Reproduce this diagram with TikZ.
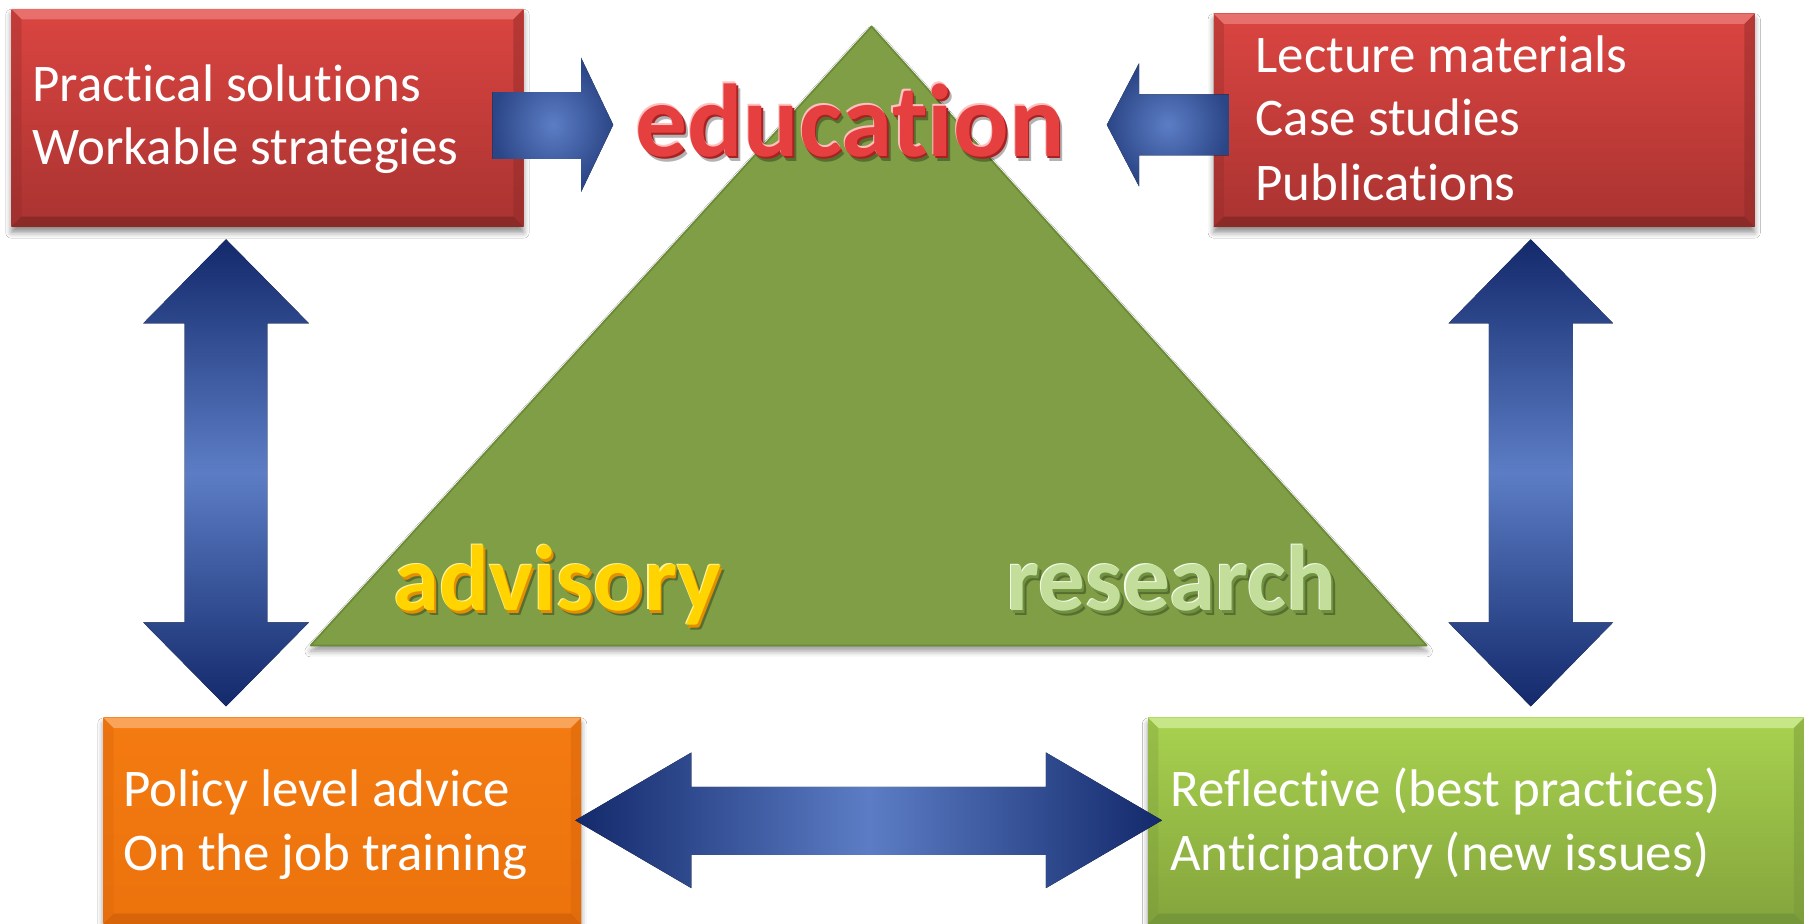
\documentclass[tikz,border=0pt]{standalone}
\usepackage{fontspec}
\setmainfont{Carlito}[RawFeature={-liga;-clig;-dlig;-hlig}]
\usetikzlibrary{shadows.blur}
\definecolor{redtop}{HTML}{DB4541}
\definecolor{redbot}{HTML}{A93331}
\definecolor{redlight}{HTML}{E8706C}
\definecolor{reddark}{HTML}{8C2A28}
\definecolor{orangemain}{HTML}{F47A11}
\definecolor{orangebot}{HTML}{EC720D}
\definecolor{orangelight}{HTML}{F9A458}
\definecolor{orangedark}{HTML}{D8640A}
\definecolor{greentop}{HTML}{A8D24F}
\definecolor{greenbot}{HTML}{84A43C}
\definecolor{greenlight}{HTML}{C6E688}
\definecolor{greendark}{HTML}{76963A}
\definecolor{trifill}{HTML}{7F9E45}
\definecolor{triedge}{HTML}{6A8A36}
\definecolor{navy}{HTML}{13296B}
\definecolor{navytwo}{HTML}{2B4687}
\definecolor{steel}{HTML}{5C7DC5}
\definecolor{edured}{HTML}{E53F3F}
\definecolor{edudark}{HTML}{A82222}
\definecolor{edulight}{HTML}{FFC0C0}
\definecolor{advyellow}{HTML}{FFD400}
\definecolor{advdark}{HTML}{E09000}
\definecolor{advlight}{HTML}{FFF39A}
\definecolor{resgreen}{HTML}{C3DE9B}
\definecolor{resdark}{HTML}{6F9140}
\definecolor{reslight}{HTML}{F4FBEA}
\newcommand\mybevel[3]{%
  \fill[#2] (#1.north west) -- (#1.north east) -- ([shift={(-9pt,-9pt)}]#1.north east) -- ([shift={(9pt,-9pt)}]#1.north west) -- cycle;
  \fill[#3] (#1.south west) -- (#1.south east) -- ([shift={(-9pt,9pt)}]#1.south east) -- ([shift={(9pt,9pt)}]#1.south west) -- cycle;
  \fill[#3,opacity=0.45] (#1.north east) -- (#1.south east) -- ([shift={(-9pt,9pt)}]#1.south east) -- ([shift={(-9pt,-9pt)}]#1.north east) -- cycle;
  \fill[#3,opacity=0.3] (#1.north west) -- (#1.south west) -- ([shift={(9pt,9pt)}]#1.south west) -- ([shift={(9pt,-9pt)}]#1.north west) -- cycle;
}
\begin{document}
\begin{tikzpicture}[x=1pt,y=-1pt,
  box/.style={rectangle, inner sep=0pt, draw=none,
    blur shadow={shadow xshift=0pt, shadow yshift=-5pt, shadow blur radius=5pt, shadow opacity=45}},
  redbox/.style={box, top color=redtop, bottom color=redbot},
  boxtext/.style={font=\fontsize{46}{55}\selectfont, text=white, inner sep=0pt, anchor=base west},
  bigword/.style={font=\fontsize{90}{100}\selectfont\bfseries, inner sep=0pt, anchor=base},
  midword/.style={font=\fontsize{81}{90}\selectfont\bfseries, inner sep=0pt, anchor=base west},
  vgrad/.style={top color=navy, bottom color=navy, middle color=steel},
  hgrad/.style={left color=navy, right color=navy, middle color=steel},
  rgrad/.style={inner color=steel, outer color=navytwo},
  shadowtext/.style={text=black, opacity=0.3}
]
\useasboundingbox (0,0) rectangle (1568,803);
\fill[white] (0,0) rectangle (1568,803);

% triangle
\path[fill=trifill, draw=triedge, line width=1.5pt, line join=round,
  blur shadow={shadow xshift=0pt, shadow yshift=-5pt, shadow blur radius=5pt, shadow opacity=40}]
  (757.5,23) -- (1240,561) -- (270,561) -- cycle;

% boxes
\node[redbox, minimum width=445pt, minimum height=189pt] (tl) at (232.5,102.5) {};
\mybevel{tl}{redlight}{reddark}
\node[redbox, minimum width=470pt, minimum height=185pt] (tr) at (1290,104.5) {};
\mybevel{tr}{redlight}{reddark}
\node[box, top color=orangemain, bottom color=orangebot, minimum width=415pt, minimum height=179pt] (bl) at (297.5,713.5) {};
\mybevel{bl}{orangelight}{orangedark}
\node[box, top color=greentop, bottom color=greenbot, minimum width=570pt, minimum height=179pt] (br) at (1283,713.5) {};
\mybevel{br}{greenlight}{greendark}

% box texts
\node[boxtext] (tla) at (28,88) {Practical solutions};
\node[boxtext] (tlb) at (28,143) {Workable strategies};
\node[boxtext] (tra) at (1091,63) {Lecture materials};
\node[boxtext] (trb) at (1091,118) {Case studies};
\node[boxtext] (trc) at (1091,174) {Publications};
\node[boxtext] (bla) at (107,701) {Policy level advice};
\node[boxtext] (blb) at (107,757) {On the job training};
\node[boxtext] (bra) at (1017,701) {Reflective (best practices)};
\node[boxtext] (brb) at (1017,757) {Anticipatory (new issues)};

% block arrows
\fill[rgrad] (428,80) -- (505,80) -- (505,50) -- (533,108.5) -- (505,167) -- (505,138) -- (428,138) -- cycle;
\fill[rgrad] (1068,82) -- (990,82) -- (990,55) -- (962,108.5) -- (990,162) -- (990,135) -- (1068,135) -- cycle;
\fill[vgrad] (196.5,208) -- (268.5,281) -- (232.5,281) -- (232.5,541) -- (268.5,541) -- (196.5,614)
  -- (124.5,541) -- (160.5,541) -- (160.5,281) -- (124.5,281) -- cycle;
\fill[vgrad] (1330.5,208) -- (1402,281) -- (1367,281) -- (1367,541) -- (1402,541) -- (1330.5,614)
  -- (1259,541) -- (1294,541) -- (1294,281) -- (1259,281) -- cycle;
\fill[hgrad] (500,713) -- (601,654) -- (601,684) -- (909,684) -- (909,654) -- (1010,713)
  -- (909,772) -- (909,743) -- (601,743) -- (601,772) -- cycle;

% education
\node[bigword, shadowtext] (edus) at (742,140) {education};
\node[bigword, text=edudark] (edud) at (740.5,138) {education};
\node[bigword, text=edulight] (edul) at (738,134.5) {education};
\node[bigword, text=edured] (edu) at (739,136) {education};

% advisory
\node[midword, shadowtext] (advs) at (345,535) {advisory};
\node[midword, text=advdark] (advd) at (343.5,533) {advisory};
\node[midword, text=advlight] (advl) at (341,529.5) {advisory};
\node[midword, text=advyellow] (adv) at (342,531) {advisory};

% research
\node[midword, shadowtext] (ress) at (878,535) {research};
\node[midword, text=resdark] (resd) at (876.5,533) {research};
\node[midword, text=reslight] (resl) at (874,529.5) {research};
\node[midword, text=resgreen] (res) at (875,531) {research};
\end{tikzpicture}
\end{document}
